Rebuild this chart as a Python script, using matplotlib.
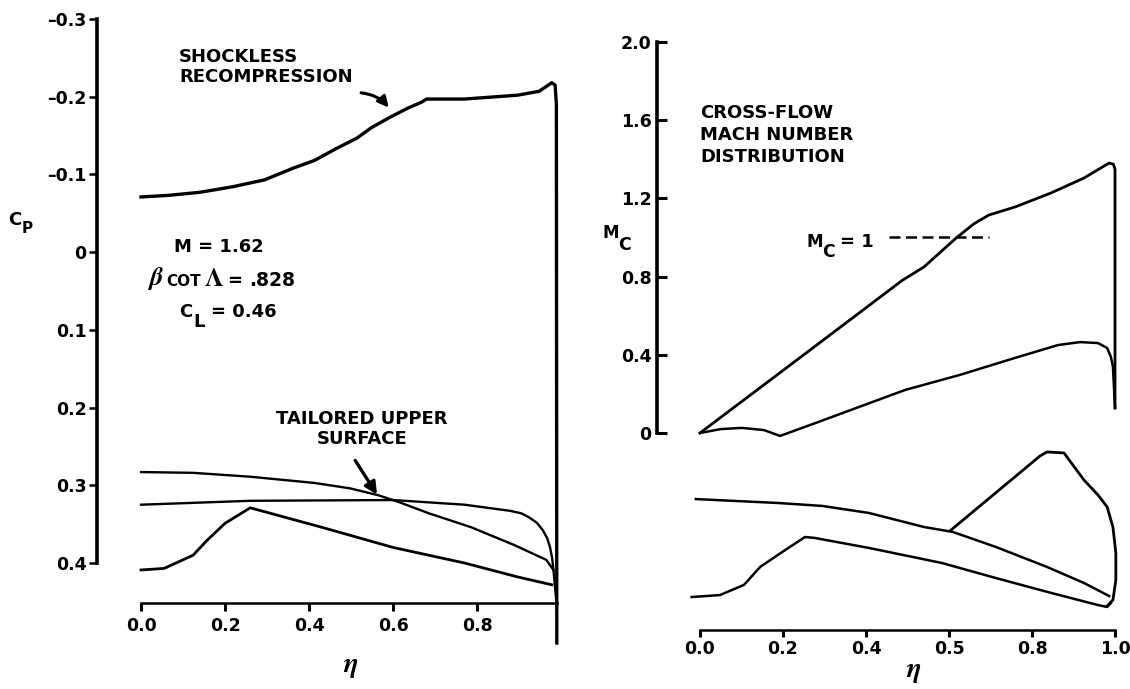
import matplotlib.pyplot as plt

plt.rcParams['font.family'] = ['DejaVu Sans']
plt.rcParams['font.weight'] = 'bold'
plt.rcParams['mathtext.fontset'] = 'stix'

W, H = 1130, 689

# left panel: spanwise pressure coefficient Cp vs eta
eta_shock = [0.0, 0.064, 0.14, 0.217, 0.294, 0.362, 0.413, 0.464, 0.515, 0.548, 0.591, 0.634, 0.668,
             0.68, 0.77, 0.897, 0.948, 0.978, 0.986, 0.989, 0.99]
cp_shock = [-0.071, -0.073, -0.077, -0.084, -0.093, -0.108, -0.118, -0.133, -0.147, -0.16, -0.173, -0.185, -0.193,
            -0.197, -0.197, -0.202, -0.207, -0.218, -0.215, -0.19, 0.503]

eta_tail = [0.0, 0.124, 0.26, 0.413, 0.498, 0.566, 0.616, 0.685, 0.786, 0.889, 0.965, 0.982]
cp_tail = [0.283, 0.284, 0.289, 0.297, 0.304, 0.313, 0.322, 0.336, 0.354, 0.377, 0.396, 0.409]

eta_flat = [0.0, 0.26, 0.6, 0.77, 0.88, 0.905, 0.923, 0.942, 0.957, 0.967, 0.974, 0.979, 0.982, 0.988]
cp_flat = [0.325, 0.320, 0.319, 0.325, 0.333, 0.336, 0.341, 0.348, 0.358, 0.368, 0.380, 0.394, 0.409, 0.444]

eta_low = [0.0, 0.055, 0.124, 0.157, 0.2, 0.26, 0.294, 0.43, 0.6, 0.77, 0.897, 0.978]
cp_low = [0.409, 0.407, 0.390, 0.371, 0.349, 0.329, 0.334, 0.354, 0.380, 0.400, 0.418, 0.428]

cp_ticks = [-0.3, -0.2, -0.1, 0.0, 0.1, 0.2, 0.3, 0.4]
cp_labels = ['\u20130.3', '\u20130.2', '\u20130.1', '0', '0.1', '0.2', '0.3', '0.4']
eta_ticks_l = [0.0, 0.2, 0.4, 0.6, 0.8]
eta_labels_l = ['0.0', '0.2', '0.4', '0.6', '0.8']

# right panel: cross-flow Mach number Mc vs eta
eta_a = [0.0, 0.25, 0.487, 0.54, 0.617, 0.66, 0.696, 0.759, 0.846, 0.925, 0.986, 0.996, 1.0, 1.0]
mc_a = [0.0, 0.40, 0.78, 0.85, 0.997, 1.07, 1.115, 1.156, 1.228, 1.304, 1.381, 1.375, 1.35, 0.128]

eta_b = [0.0, 0.05, 0.101, 0.154, 0.193, 0.277, 0.494, 0.626, 0.759, 0.863, 0.916, 0.959, 0.981, 0.99, 0.995, 1.0]
mc_b = [0.0, 0.02, 0.026, 0.015, -0.015, 0.05, 0.22, 0.297, 0.384, 0.45, 0.465, 0.46, 0.435, 0.39, 0.34, 0.128]

eta_c = [-0.01, 0.188, 0.294, 0.407, 0.54, 0.609, 0.713, 0.836, 0.925, 0.986]
mc_c = [-0.338, -0.358, -0.373, -0.409, -0.481, -0.506, -0.583, -0.685, -0.767, -0.834]

eta_d = [0.605, 0.819, 0.836, 0.877, 0.925, 0.959, 0.981, 0.995, 1.002, 1.002, 0.995, 0.981]
mc_d = [-0.496, -0.118, -0.097, -0.102, -0.24, -0.317, -0.378, -0.481, -0.614, -0.752, -0.854, -0.885]

eta_e = [-0.02, 0.048, 0.106, 0.145, 0.198, 0.253, 0.277, 0.407, 0.583, 0.713, 0.846, 0.959, 0.981, 0.99]
mc_e = [-0.839, -0.829, -0.777, -0.685, -0.609, -0.532, -0.537, -0.588, -0.665, -0.742, -0.818, -0.88, -0.89, -0.87]

mc_ticks = [0.0, 0.4, 0.8, 1.2, 1.6, 2.0]
mc_labels = ['0', '0.4', '0.8', '1.2', '1.6', '2.0']
eta_ticks_r = [0.0, 0.2, 0.4, 0.6, 0.8, 1.0]
eta_labels_r = ['0.0', '0.2', '0.4', '0.5', '0.8', '1.0']
sonic_eta = [0.455, 0.696]
sonic_mc = [1.0, 1.0]

fig = plt.figure(figsize=(W / 100, H / 100), dpi=100)


def ptext(x, y, s, **kw):
    # place a label by pixel position measured from the top left corner
    fig.text(x / W, 1 - y / H, s, **kw)


# left axes
axL = fig.add_axes([97 / W, 1 - 603 / H, (561 - 97) / W, (603 - 19) / H])
axL.set_xlim(-0.1048, 1.0)
axL.set_ylim(0.4515, -0.3)
axL.plot(eta_shock, cp_shock, 'k-', lw=2.4, clip_on=False)
axL.plot(eta_tail, cp_tail, 'k-', lw=1.7, clip_on=False)
axL.plot(eta_flat, cp_flat, 'k-', lw=1.7, clip_on=False)
axL.plot(eta_low, cp_low, 'k-', lw=2.0, clip_on=False)

axL.spines['top'].set_visible(False)
axL.spines['right'].set_visible(False)
axL.spines['left'].set_bounds(-0.3, 0.4)
axL.spines['bottom'].set_bounds(0.0, 0.99)
axL.spines['left'].set_linewidth(2.6)
axL.spines['bottom'].set_linewidth(1.8)
axL.set_yticks(cp_ticks, cp_labels)
axL.set_xticks(eta_ticks_l, eta_labels_l)
axL.tick_params(axis='y', direction='out', length=6, width=1.8, pad=1.5, labelsize=12.5)
axL.tick_params(axis='x', direction='out', length=6, width=2.2, pad=4, labelsize=12.5)

axL.annotate('', xy=(0.59, -0.186), xytext=(0.524, -0.205),
             arrowprops=dict(arrowstyle='-|>', lw=2.2, color='k', mutation_scale=16,
                             shrinkA=0, shrinkB=0, connectionstyle='arc3,rad=-0.2'))
axL.annotate('', xy=(0.562, 0.312), xytext=(0.51, 0.268),
             arrowprops=dict(arrowstyle='-|>', lw=2.4, color='k', mutation_scale=18,
                             shrinkA=0, shrinkB=0))

# right axes
axR = fig.add_axes([657 / W, 1 - 630 / H, (1117 - 657) / W, (630 - 42) / H])
axR.set_xlim(-0.1036, 1.0048)
axR.set_ylim(-1.0077, 2.0)
axR.plot(eta_a, mc_a, 'k-', lw=2.0, clip_on=False)
axR.plot(eta_b, mc_b, 'k-', lw=1.8, clip_on=False)
axR.plot(eta_c, mc_c, 'k-', lw=1.8, clip_on=False)
axR.plot(eta_d, mc_d, 'k-', lw=2.0, clip_on=False)
axR.plot(eta_e, mc_e, 'k-', lw=1.8, clip_on=False)
axR.plot(sonic_eta, sonic_mc, 'k', lw=1.8, dashes=(4.4, 2.2))

axR.spines['top'].set_visible(False)
axR.spines['right'].set_visible(False)
axR.spines['left'].set_bounds(0.0, 2.0)
axR.spines['bottom'].set_bounds(0.0, 1.0)
axR.spines['left'].set_linewidth(2.6)
axR.spines['bottom'].set_linewidth(1.8)
axR.set_yticks(mc_ticks, mc_labels)
axR.set_xticks(eta_ticks_r, eta_labels_r)
axR.tick_params(axis='y', direction='in', length=7, width=2.2, pad=4, labelsize=12.5)
axR.tick_params(axis='x', direction='out', length=5, width=2.2, pad=2, labelsize=12.5)

# labels and notes
bold = dict(fontsize=13, fontweight='bold')
ptext(179, 48, 'SHOCKLESS\nRECOMPRESSION', va='top', ha='left', linespacing=1.15, **bold)
ptext(174, 252, 'M = 1.62', va='baseline', **bold)
ptext(147, 285, r'$\beta$', va='baseline', fontsize=19)
ptext(166, 286, 'COT', va='baseline', fontsize=11, fontweight='bold')
ptext(204, 286, r'$\Lambda$', va='baseline', fontsize=19)
ptext(227, 286, '=', va='baseline', **bold)
ptext(249, 286, '.828', va='baseline', fontsize=13.5, fontweight='bold')
ptext(179, 317, 'C', va='baseline', **bold)
ptext(193, 327, 'L', va='baseline', **bold)
ptext(211, 317, '= 0.46', va='baseline', **bold)
ptext(8, 225, 'C', va='baseline', **bold)
ptext(22, 233, 'P', va='baseline', fontsize=11, fontweight='bold')
ptext(362, 410, 'TAILORED UPPER\nSURFACE', va='top', ha='center', multialignment='center',
      linespacing=1.15, **bold)
ptext(351, 666, r'$\eta$', ha='center', va='center', fontsize=20)

ptext(700, 104, 'CROSS-FLOW\nMACH NUMBER\nDISTRIBUTION', va='top', ha='left', linespacing=1.3, **bold)
ptext(602, 238, 'M', va='baseline', fontsize=12, fontweight='bold')
ptext(618, 250, 'C', va='baseline', fontsize=12.5, fontweight='bold')
ptext(806, 247, 'M', va='baseline', fontsize=12, fontweight='bold')
ptext(822, 257, 'C', va='baseline', fontsize=12.5, fontweight='bold')
ptext(840, 247, '= 1', va='baseline', **bold)
ptext(914, 671, r'$\eta$', ha='center', va='center', fontsize=20)

fig.savefig('out.png', dpi=100)
